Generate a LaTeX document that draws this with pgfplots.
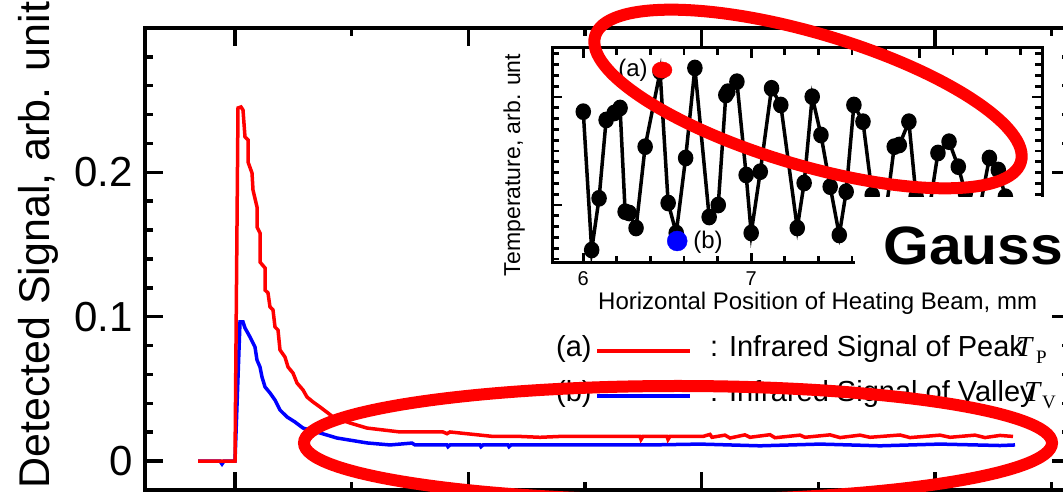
\documentclass[border=0pt]{standalone}
\usepackage{fontspec}
\setmainfont{Liberation Sans}
\newfontfamily\seriffont{Liberation Serif}
\usepackage{pgfplots}
\pgfplotsset{compat=1.18}
\begin{document}
\begin{tikzpicture}[x=1pt,y=1pt]
\useasboundingbox (0,0) rectangle (1063,492);
\begin{scope}
\clip (0,0) rectangle (1063,492);
% ---------------- main axis ----------------
\begin{axis}[
  at={(145pt,2pt)}, anchor=south west, scale only axis,
  width=925pt, height=462pt,
  xmin=145, xmax=1070, ymin=-0.02, ymax=0.3,
  xtick={235,468.3,701.7,935},
  minor xtick={351.7,585,818.3,1051.7},
  xticklabels={},
  ytick={0,0.1,0.2},
  minor ytick={0.02,0.04,0.06,0.08,0.12,0.14,0.16,0.18,0.22,0.24,0.26,0.28},
  tick align=inside, xtick pos=both, ytick pos=both,
  major tick length=18pt, minor tick length=8pt,
  axis line style={line width=3.8pt},
  tick style={line width=3.5pt, black},
  /pgf/number format/assume math mode=true,
  yticklabel style={font=\fontsize{42}{46}\selectfont, inner sep=0pt, xshift=-12pt},
  clip=false,
]
\addplot[blue, line width=3.5pt] coordinates {
(198,0) (220,0) (222,-0.002) (224,0) (235,0) (240,0.0964) (243,0.0964) (245,0.0922)
(250,0.086) (255,0.079) (257,0.070) (260,0.0652) (262,0.0583) (265,0.0514)
(270,0.0472) (275,0.0423) (280,0.0354) (287,0.0306) (295,0.0271) (303,0.0229)
(320,0.0195) (337,0.016) (367,0.0126) (390,0.0112) (412,0.0125) (415,0.0112)
(447,0.0112) (448,0.0100) (450,0.0112) (480,0.0112) (481,0.0100) (483,0.0112)
(508,0.0112) (509,0.0100) (511,0.0112) (650,0.0112) (700,0.0118) (760,0.0106)
(820,0.0118) (880,0.0106) (940,0.0118) (1000,0.0108) (1015,0.0112)
};
\addplot[red, line width=3.5pt] coordinates {
(198,0) (235,0) (238,0.2446) (241,0.2453) (243,0.2432) (245,0.2245) (248,0.2225)
(248,0.2072) (252,0.1996) (253,0.1878) (257,0.176) (257,0.1622) (260,0.158)
(260,0.1379) (265,0.1338) (265,0.1185) (268,0.1165) (270,0.1068) (273,0.1047)
(275,0.0929) (278,0.0908) (280,0.077) (285,0.0721) (288,0.0652) (293,0.061)
(297,0.0541) (303,0.0493) (307,0.0444) (313,0.041) (320,0.0375) (328,0.0333)
(333,0.0306) (350,0.0264) (367,0.0229) (400,0.0202) (443,0.0202) (447,0.0190)
(450,0.0202) (493,0.0171) (520,0.0171) (540,0.0165) (560,0.0171) (640,0.0171)
(641,0.0150) (643,0.0171) (667,0.0171) (668,0.0150) (670,0.0171) (703,0.0171)
(710,0.0185) (712,0.0165) (725,0.0180) (730,0.0160) (745,0.0182) (750,0.0165)
(770,0.0183) (775,0.0162) (800,0.0180) (805,0.0165) (830,0.0182) (840,0.0163)
(860,0.0180) (870,0.0165) (900,0.0181) (910,0.0163) (940,0.0180) (950,0.0165)
(975,0.0180) (985,0.0163) (1000,0.0178) (1013,0.0171)
};
\end{axis}
% y label
\node[rotate=90, anchor=base west, inner sep=0pt, font=\fontsize{43}{48}\selectfont] at (49,3) {Detected Signal, arb. unit};
% ---------------- legend ----------------
\node[anchor=base west, inner sep=0pt, font=\fontsize{29}{32}\selectfont] at (556,135) {(a)};
\draw[red, line width=3.5pt] (597,141) -- (690,141);
\node[anchor=base west, inner sep=0pt, font=\fontsize{29}{32}\selectfont] at (710,135) {: Infrared Signal of Peak};
\node[anchor=base west, inner sep=0pt, font=\seriffont\itshape\fontsize{29}{30}\selectfont] at (1016,135) {T};
\node[anchor=base west, inner sep=0pt, font=\seriffont\fontsize{19}{21}\selectfont] at (1036,128) {P};
\node[anchor=base west, inner sep=0pt, font=\fontsize{29}{32}\selectfont] at (556,90) {(b)};
\draw[blue, line width=3.5pt] (597,96) -- (690,96);
\node[anchor=base west, inner sep=0pt, font=\fontsize{29}{32}\selectfont] at (710,90) {: Infrared Signal of Valley};
\node[anchor=base west, inner sep=0pt, font=\seriffont\itshape\fontsize{29}{30}\selectfont] at (1024,90) {T};
\node[anchor=base west, inner sep=0pt, font=\seriffont\fontsize{19}{21}\selectfont] at (1042,83) {V};
% ---------------- inset ----------------
\begin{axis}[
  at={(552pt,229pt)}, anchor=south west, scale only axis,
  width=490pt, height=215pt,
  xmin=5.815, xmax=8.73, ymin=0, ymax=215,
  axis background/.style={fill=white},
  xtick={6,7,8}, xticklabels={6,7,{}},
  minor xtick={5.8,6.2,6.4,6.6,6.8,7.2,7.4,7.6,7.8,8.2,8.4,8.6},
  ytick={58,166}, yticklabels={},
  minor ytick={4,14.8,...,212},
  tick align=inside, xtick pos=both, ytick pos=both,
  major tick length=10pt, minor tick length=7pt,
  axis line style={line width=3pt},
  tick style={line width=2.8pt, black},
  /pgf/number format/assume math mode=true,
  xticklabel style={font=\fontsize{20}{22}\selectfont, yshift=-5pt},
]
\addplot[black, line width=3.5pt, mark=*, mark size=6pt, mark options={fill=black, yscale=1.1}] coordinates {
(6.001,151.3) (6.051,13) (6.095,64.7) (6.137,143) (6.185,150) (6.220,155)
(6.250,51.3) (6.274,50) (6.315,35) (6.369,116.3) (6.458,191.3) (6.506,60)
(6.554,30) (6.610,105) (6.665,195) (6.750,46) (6.804,58) (6.849,168)
(6.861,171.3) (6.915,181.3) (6.970,88) (7.000,30) (7.054,91.3) (7.121,174.7)
(7.176,158) (7.274,35) (7.315,80) (7.363,166.3) (7.415,128) (7.470,76.3)
(7.524,28) (7.565,71.3) (7.611,158) (7.665,141.3) (7.720,68) (7.780,23)
(7.851,116.3) (7.881,118) (7.938,141.3) (7.981,66.3) (8.036,28) (8.111,110)
(8.177,121.3) (8.232,96.3) (8.274,70) (8.333,31) (8.417,105) (8.470,93)
(8.512,66.3) (8.554,38)
};
\addplot[only marks, red, mark=*, mark size=9pt, mark options={xscale=1.1, yscale=0.9}] coordinates {(6.47,193)};
\addplot[only marks, blue, mark=*, mark size=10pt] coordinates {(6.56,22)};
\node[anchor=east, inner sep=0pt, font=\fontsize{24}{26}\selectfont] at (axis cs:6.385,193) {(a)};
\node[anchor=west, inner sep=0pt, font=\fontsize{24}{26}\selectfont] at (axis cs:6.655,21) {(b)};
\end{axis}
\node[rotate=90, anchor=base, inner sep=0pt, font=\fontsize{23}{25}\selectfont] at (520,327) {Temperature, arb. unt};
\node[anchor=base west, inner sep=0pt, font=\fontsize{24}{26}\selectfont] at (598,182) {Horizontal Position of Heating Beam, mm};
% white box with Gauss
\fill[white] (855,200) rectangle (1070,295);
\node[anchor=base west, inner sep=0pt, xscale=1.09, font=\bfseries\fontsize{54}{58}\selectfont] at (883,227) {Gauss};
% ---------------- annotation ellipses ----------------
\draw[red, line width=12pt, rotate around={-16.5:(808,393)}] (808,393) ellipse (222 and 66);
\draw[red, line width=12pt] (678,49) ellipse (374 and 57);
\end{scope}
\end{tikzpicture}
\end{document}
